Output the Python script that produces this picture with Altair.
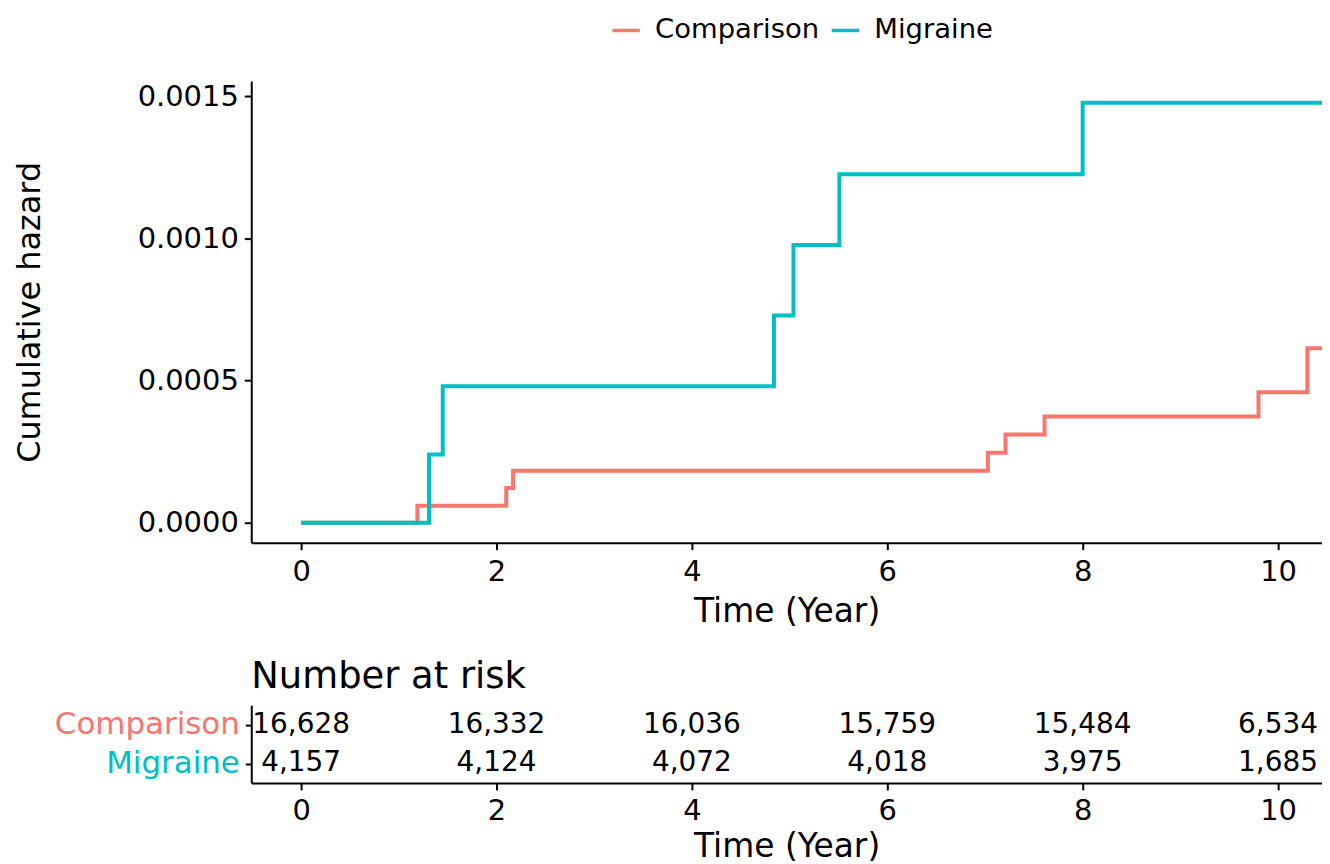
import altair as alt
import pandas as pd

FONT = "DejaVu Sans"

groups = ["Comparison", "Migraine"]
colors = ["#F8766D", "#00BFC4"]

# Cumulative hazard step curves
comp_time = [0, 1.19, 2.10, 2.17, 7.03, 7.21, 7.61, 9.80, 10.30, 10.45]
comp_haz = [0, 0.00006, 0.000122, 0.000183, 0.000246, 0.00031, 0.000374, 0.000459, 0.000614, 0.000614]
mig_time = [0, 1.31, 1.45, 4.84, 5.04, 5.51, 8.00, 10.45]
mig_haz = [0, 0.00024, 0.00048, 0.000729, 0.000977, 0.001225, 0.001477, 0.001477]

# Number at risk table
risk_time = [0, 2, 4, 6, 8, 10]
risk_comp = [16628, 16332, 16036, 15759, 15484, 6534]
risk_mig = [4157, 4124, 4072, 4018, 3975, 1685]

x_ticks = [0, 2, 4, 6, 8, 10]
y_ticks = [0, 0.0005, 0.001, 0.0015]

lines_df = pd.DataFrame(
    {"time": comp_time, "hazard": comp_haz, "group": "Comparison"}
)
lines_df = pd.concat(
    [lines_df, pd.DataFrame({"time": mig_time, "hazard": mig_haz, "group": "Migraine"})],
    ignore_index=True,
)

risk_df = pd.concat(
    [
        pd.DataFrame({"time": risk_time, "n": risk_comp, "group": "Comparison"}),
        pd.DataFrame({"time": risk_time, "n": risk_mig, "group": "Migraine"}),
    ],
    ignore_index=True,
)

PLOT_W = 1074
xscale = alt.Scale(domain=[-0.51, 10.45], nice=False, zero=False)

main = alt.Chart(lines_df).mark_line(
    interpolate="step-after", strokeWidth=4, clip=True
).encode(
    x=alt.X(
        "time:Q",
        scale=xscale,
        axis=alt.Axis(values=x_ticks, format="d", title="Time (Year)", titleY=53, labelPadding=8),
    ),
    y=alt.Y(
        "hazard:Q",
        scale=alt.Scale(domain=[-0.00007, 0.001553], nice=False, zero=False),
        axis=alt.Axis(
            values=y_ticks,
            format=".4f",
            title="Cumulative hazard",
            titleX=-205,
            titleY=231.5,
            titleFontSize=32,
            labelPadding=6,
        ),
    ),
    color=alt.Color(
        "group:N",
        scale=alt.Scale(domain=groups, range=colors),
        legend=alt.Legend(
            title=None,
            orient="none",
            legendX=360,
            legendY=-67,
            direction="horizontal",
            symbolType="stroke",
            symbolStrokeWidth=3.5,
            symbolSize=760,
            labelFontSize=27.5,
            labelFont=FONT,
            labelColor="black",
            labelLimit=0,
            labelOffset=13,
            columnPadding=5,
        ),
    ),
).properties(width=PLOT_W, height=463)

risk = alt.Chart(risk_df).mark_text(
    fontSize=28, font=FONT, color="black", baseline="middle", align="center"
).encode(
    x=alt.X(
        "time:Q",
        scale=xscale,
        axis=alt.Axis(values=x_ticks, format="d", title="Time (Year)", titleY=48, labelPadding=7),
    ),
    y=alt.Y(
        "group:N",
        scale=alt.Scale(domain=groups),
        axis=alt.Axis(
            title=None,
            labelColor=alt.ExprRef(expr="datum.value === 'Comparison' ? '#F8766D' : '#00BFC4'"),
            labelFontSize=31,
            tickSize=6,
            labelPadding=6,
        ),
    ),
    text=alt.Text("n:Q", format=","),
).properties(
    width=PLOT_W,
    height=78,
    title=alt.TitleParams(
        "Number at risk",
        anchor="start",
        frame="group",
        fontSize=37,
        fontWeight="normal",
        font=FONT,
        color="black",
        offset=9,
    ),
)

chart = (
    alt.vconcat(main, risk, spacing=30)
    .properties(padding={"left": 5, "top": 5, "right": 0, "bottom": 0})
    .configure(font=FONT)
    .configure_view(stroke=None)
    .configure_axis(
        domainColor="black",
        domainWidth=2,
        tickColor="black",
        tickWidth=2,
        tickSize=7,
        labelColor="black",
        labelFontSize=29,
        labelFont=FONT,
        labelLimit=0,
        titleFont=FONT,
        titleFontSize=33,
        titleFontWeight="normal",
        titleColor="black",
        grid=False,
    )
)

chart.save("out.html", embed_options={"renderer": "svg", "actions": False})
